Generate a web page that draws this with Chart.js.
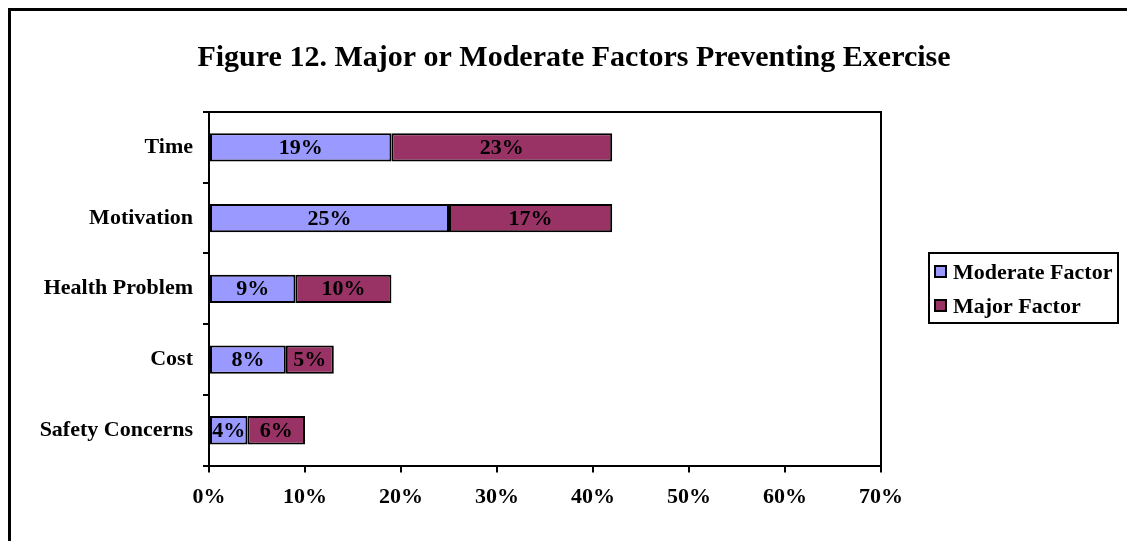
<!DOCTYPE html>
<html>
<head>
<meta charset="utf-8">
<script src="https://cdn.jsdelivr.net/npm/chart.js@4.4.0/dist/chart.umd.min.js"></script>
<style>
  body { margin: 0; background: #fff; }
  #wrap { width: 1127px; height: 541px; }
</style>
</head>
<body>
<div id="wrap"><canvas id="chart" width="1127" height="541"></canvas></div>
<script>
const categories = ['Time', 'Motivation', 'Health Problem', 'Cost', 'Safety Concerns'];
const moderate = [19, 25, 9, 8, 4];
const major = [23, 17, 10, 5, 6];
const seriesNames = ['Moderate Factor', 'Major Factor'];
const xTicks = [0, 10, 20, 30, 40, 50, 60, 70];
const titleText = 'Figure 12. Major or Moderate Factors Preventing Exercise';

const FONT = '"Liberation Serif", "Times New Roman", serif';

// outer frame, title, plot box, bar labels and boxed legend
const extras = {
    id: 'extras',
    beforeDraw(chart) {
        const c = chart.ctx;
        c.save();
        c.fillStyle = '#fff';
        c.fillRect(0, 0, chart.width, chart.height);
        c.strokeStyle = '#000';
        c.lineWidth = 3;
        c.beginPath();
        c.moveTo(9.5, chart.height);
        c.lineTo(9.5, 9.5);
        c.lineTo(chart.width, 9.5);
        c.stroke();

        c.fillStyle = '#000';
        c.font = 'bold 30px ' + FONT;
        c.textAlign = 'center';
        c.textBaseline = 'middle';
        c.fillText(titleText, 574, 58);
        c.restore();
    },
    afterDatasetsDraw(chart) {
        const c = chart.ctx;
        const a = chart.chartArea;
        c.save();
        c.strokeStyle = '#000';
        c.lineWidth = 2;
        c.beginPath();
        c.moveTo(a.left, a.top);
        c.lineTo(a.right, a.top);
        c.lineTo(a.right, a.bottom);
        c.stroke();

        c.font = 'bold 22px ' + FONT;
        c.fillStyle = '#000';
        c.textAlign = 'center';
        c.textBaseline = 'middle';
        chart.data.datasets.forEach((ds, i) => {
            chart.getDatasetMeta(i).data.forEach((bar, j) => {
                const x = (bar.x + bar.base) / 2;
                c.fillText(ds.data[j] + '%', x, bar.y + 1);
            });
        });

        // legend
        const lx = 929, ly = 253, lw = 189, lh = 70;
        c.lineWidth = 2;
        c.strokeRect(lx, ly, lw, lh);
        c.font = 'bold 22px ' + FONT;
        c.textAlign = 'left';
        chart.data.datasets.forEach((ds, i) => {
            const cy = ly + 19 + i * 34;
            c.fillStyle = ds.backgroundColor;
            c.fillRect(lx + 6, cy - 6, 11, 11);
            c.strokeRect(lx + 6, cy - 6, 11, 11);
            c.fillStyle = '#000';
            c.fillText(ds.label, lx + 24, cy + 1);
        });
        c.restore();
    }
};

function renderChart() {
    const ctx = document.getElementById('chart').getContext('2d');
    new Chart(ctx, {
        type: 'bar',
        data: {
            labels: categories,
            datasets: [
                {
                    label: seriesNames[0],
                    data: moderate,
                    backgroundColor: '#9999FF',
                    borderColor: '#000',
                    borderWidth: 2,
                    borderSkipped: false,
                    barPercentage: 0.4,
                    categoryPercentage: 1
                },
                {
                    label: seriesNames[1],
                    data: major,
                    backgroundColor: '#993366',
                    borderColor: '#000',
                    borderWidth: 2,
                    borderSkipped: false,
                    barPercentage: 0.4,
                    categoryPercentage: 1
                }
            ]
        },
        options: {
            indexAxis: 'y',
            responsive: false,
            animation: false,
            layout: { padding: { left: 21, right: 246, top: 112, bottom: 18 } },
            plugins: {
                legend: { display: false },
                tooltip: { enabled: false },
                title: { display: false }
            },
            scales: {
                x: {
                    stacked: true,
                    min: xTicks[0],
                    max: xTicks[xTicks.length - 1],
                    afterBuildTicks(scale) {
                        scale.ticks = xTicks.map(v => ({ value: v }));
                    },
                    ticks: {
                        color: '#000',
                        font: { family: FONT, size: 22, weight: 'bold' },
                        padding: 12,
                        maxRotation: 0,
                        callback: v => v + '%'
                    },
                    grid: { drawOnChartArea: false, drawTicks: true, tickLength: 7, color: '#000', lineWidth: 2 },
                    border: { display: true, color: '#000', width: 2 }
                },
                y: {
                    stacked: true,
                    afterFit(scale) { scale.width = 188; },
                    ticks: {
                        color: '#000',
                        font: { family: FONT, size: 22, weight: 'bold' },
                        padding: 10
                    },
                    grid: { drawOnChartArea: false, drawTicks: true, tickLength: 6, color: '#000', lineWidth: 2, offset: true },
                    border: { display: true, color: '#000', width: 2 }
                }
            }
        },
        plugins: [extras]
    });
}
renderChart();
</script>
</body>
</html>
